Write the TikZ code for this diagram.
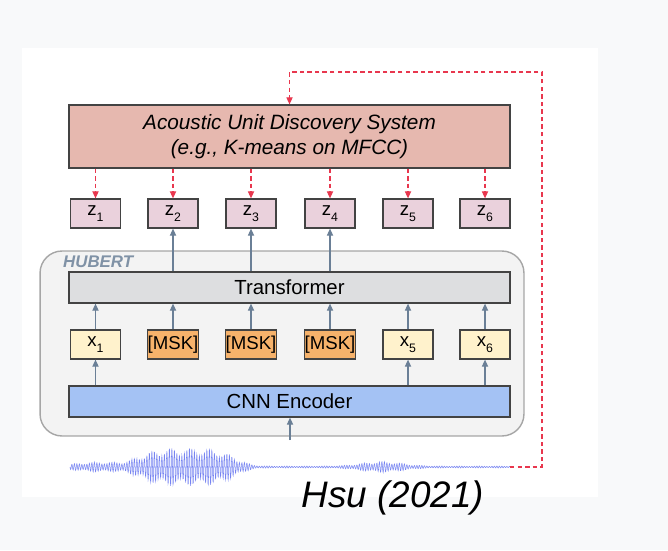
\documentclass[tikz,border=0pt]{standalone}
\usepackage{fontspec}
\setmainfont{Liberation Sans}
\usetikzlibrary{arrows.meta,positioning}
\definecolor{adsFill}{HTML}{E6B8AF}
\definecolor{zFill}{HTML}{EAD1DC}
\definecolor{trFill}{HTML}{DDDEE0}
\definecolor{xFill}{HTML}{FFF2CC}
\definecolor{mskFill}{HTML}{F6B26B}
\definecolor{cnnFill}{HTML}{A4C2F4}
\definecolor{hubFill}{HTML}{F3F3F3}
\definecolor{edgeGray}{HTML}{434343}
\definecolor{arrGray}{HTML}{6A7F96}
\definecolor{fbRed}{HTML}{E8374E}
\definecolor{waveBlue}{HTML}{5566EE}
\definecolor{pageGray}{HTML}{F8F9FA}
\newcommand{\lowidx}[1]{\raisebox{-0.6ex}{\scriptsize #1}}

\begin{document}
\begin{tikzpicture}[
    x=0.02cm, y=-0.02cm,
    font=\fontsize{11.6}{14.2}\selectfont,
    box/.style={draw=edgeGray, line width=0.7pt, rectangle, align=center, inner sep=0pt},
    widebox/.style={box, minimum width=8.82cm, minimum height=0.62cm},
    tokbox/.style={box, minimum width=1cm, minimum height=0.58cm, font=\fontsize{10.6}{12}\selectfont},
    uparrow/.style={-{Triangle[length=4pt,width=3.5pt]}, arrGray, line width=0.7pt},
    fbarrow/.style={-{Triangle[length=4pt,width=3.5pt]}, fbRed, line width=0.7pt, dash pattern=on 2.5pt off 1.8pt},
    declare function={
        gs(\t,\c,\w)=exp(-min(40,((\t-\c)/\w)*((\t-\c)/\w)));
        env(\t)=1+4*gs(\t,100,35)+18*exp(-min(40,pow((\t-187)/52,4)))+4.5*gs(\t,382,28);}
]
    \useasboundingbox (0,0) rectangle (668,550);
    \fill[pageGray] (0,0) rectangle (668,550);
    \fill[white] (22,48) rectangle (598,497);

    % HUBERT container
    \node[draw=gray!70, fill=hubFill, line width=0.8pt, rounded corners=0.44cm,
          minimum width=9.68cm, minimum height=3.7cm, inner sep=0pt] (hub) at (282,343.5) {};
    \node[anchor=west, text=arrGray!85, font=\fontsize{9.6}{10}\selectfont\bfseries\itshape] (hublabel) at (57,262) {HUBERT};

    \node[box, fill=adsFill, minimum width=8.82cm, minimum height=1.26cm, font=\fontsize{11.8}{14.2}\selectfont\itshape] (ads) at (289.5,136.5)
        {Acoustic Unit Discovery System\\(e.g., K-means on MFCC)};

    \node[tokbox, fill=zFill] (z1) at (95.5,213.5) {z\lowidx{1}};
    \node[tokbox, fill=zFill] (z2) at (173,213.5) {z\lowidx{2}};
    \node[tokbox, fill=zFill] (z3) at (251,213.5) {z\lowidx{3}};
    \node[tokbox, fill=zFill] (z4) at (330,213.5) {z\lowidx{4}};
    \node[tokbox, fill=zFill] (z5) at (408,213.5) {z\lowidx{5}};
    \node[tokbox, fill=zFill] (z6) at (485,213.5) {z\lowidx{6}};

    \node[widebox, fill=trFill] (trans) at (289.5,287.5) {Transformer};

    \node[tokbox, fill=xFill] (x1) at (95.5,344.5) {x\lowidx{1}};
    \node[tokbox, fill=mskFill] (m2) at (173,344.5) {[MSK]};
    \node[tokbox, fill=mskFill] (m3) at (251,344.5) {[MSK]};
    \node[tokbox, fill=mskFill] (m4) at (330,344.5) {[MSK]};
    \node[tokbox, fill=xFill] (x5) at (408,344.5) {x\lowidx{5}};
    \node[tokbox, fill=xFill] (x6) at (485,344.5) {x\lowidx{6}};

    \node[widebox, fill=cnnFill] (cnn) at (289.5,401.5) {CNN Encoder};

    % targets from the discovery system
    \draw[fbarrow] (ads.south -| z1) -- (z1);
    \draw[fbarrow] (ads.south -| z2) -- (z2);
    \draw[fbarrow] (ads.south -| z3) -- (z3);
    \draw[fbarrow] (ads.south -| z4) -- (z4);
    \draw[fbarrow] (ads.south -| z5) -- (z5);
    \draw[fbarrow] (ads.south -| z6) -- (z6);

    % transformer outputs for masked frames
    \draw[uparrow] (trans.north -| z2) -- (z2);
    \draw[uparrow] (trans.north -| z3) -- (z3);
    \draw[uparrow] (trans.north -| z4) -- (z4);

    \draw[uparrow] (x1) -- (x1 |- trans.south);
    \draw[uparrow] (m2) -- (m2 |- trans.south);
    \draw[uparrow] (m3) -- (m3 |- trans.south);
    \draw[uparrow] (m4) -- (m4 |- trans.south);
    \draw[uparrow] (x5) -- (x5 |- trans.south);
    \draw[uparrow] (x6) -- (x6 |- trans.south);

    \draw[uparrow] (cnn.north -| x1) -- (x1);
    \draw[uparrow] (cnn.north -| x5) -- (x5);
    \draw[uparrow] (cnn.north -| x6) -- (x6);

    % waveform input
    \coordinate (wavin) at (290,440);
    \draw[uparrow] (wavin) -- (wavin |- cnn.south);
    \draw[waveBlue, line width=0.3pt, opacity=0.8]
        plot[domain=0:176, samples=1500, variable=\s]
        ({70+2.5*\s}, {467+env(70+2.5*\s)*sin(mod(\s,1)*360)*(0.8+0.2*sin(mod(\s*0.13,1)*360))});
    \coordinate (wend) at (510,467);
    \coordinate (fbtop) at (542,72);

    % feedback loop
    \draw[fbarrow] (wend) -| (fbtop) -| (ads.north);

    \node[font=\fontsize{21}{24}\selectfont\itshape] (cite) at (393,498) {Hsu (2021)};
\end{tikzpicture}
\end{document}
